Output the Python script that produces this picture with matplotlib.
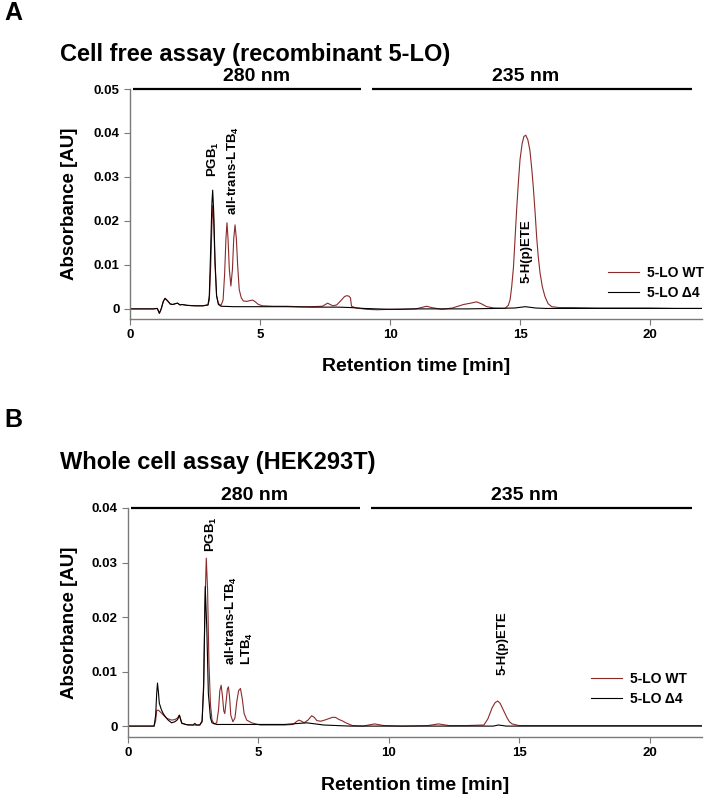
import numpy as np
import matplotlib
matplotlib.use('Agg')
import matplotlib.pyplot as plt

# ---- data ----
# panel A: cell free assay
t_a_wt = [0, 0.9, 1.05, 1.13, 1.2, 1.28, 1.35, 1.45, 1.55, 1.65,
          1.75, 1.83, 1.92, 2.0, 2.2, 2.5, 2.8, 3.0, 3.05, 3.1,
          3.15, 3.18, 3.22, 3.27, 3.33, 3.4, 3.5, 3.58, 3.64, 3.69,
          3.73, 3.77, 3.82, 3.88, 3.94, 3.99, 4.04, 4.09, 4.14, 4.2,
          4.28, 4.36, 4.5, 4.62, 4.72, 4.82, 4.94, 5.1, 5.5, 6.0,
          6.5, 7.0, 7.4, 7.6, 7.8, 7.95, 8.1, 8.25, 8.33, 8.42,
          8.48, 8.52, 8.7, 9.1, 9.5, 10, 10.5, 11.0, 11.2, 11.41,
          11.6, 11.99, 12.4, 12.83, 13.1, 13.33, 13.5, 13.72, 14.0, 14.42,
          14.55, 14.62, 14.68, 14.75, 14.81, 14.87, 14.94, 15.0, 15.08, 15.15,
          15.22, 15.3, 15.38, 15.45, 15.51, 15.58, 15.64, 15.7, 15.77, 15.86,
          15.96, 16.08, 16.22, 16.5, 17, 18, 19, 20, 21, 22]
a_wt = [0, 0, 0.0001, -0.001, 0.0, 0.0017, 0.0024, 0.0018, 0.0011, 0.0010,
        0.0012, 0.0013, 0.0009, 0.0010, 0.0008, 0.0007, 0.0007, 0.0009, 0.002, 0.009,
        0.019, 0.0235, 0.020, 0.010, 0.003, 0.0012, 0.0008, 0.002, 0.008, 0.016,
        0.0196, 0.016, 0.009, 0.0052, 0.009, 0.016, 0.0191, 0.016, 0.010, 0.0044,
        0.0025, 0.0018, 0.0017, 0.0019, 0.0020, 0.0016, 0.0010, 0.0007, 0.0006, 0.0006,
        0.0005, 0.0005, 0.0006, 0.0013, 0.0007, 0.0009, 0.0018, 0.0028, 0.0030, 0.0029,
        0.0025, 0.0006, 0.0002, -0.0001, -0.0002, -0.0001, -0.0001, 0.0, 0.0003, 0.0006,
        0.0003, -0.0001, 0.0002, 0.0010, 0.0013, 0.0016, 0.0012, 0.0005, 0.0002, 0.0001,
        0.0008, 0.0021, 0.005, 0.0096, 0.016, 0.0225, 0.029, 0.0339, 0.0375, 0.0392,
        0.0395, 0.0385, 0.0361, 0.032, 0.0278, 0.022, 0.0164, 0.012, 0.0082, 0.0050,
        0.0028, 0.0012, 0.0005, 0.0003, 0.0003, 0.0002, 0.0002, 0.0002, 0.0001, 0.0001]

t_a_d4 = [0, 0.9, 1.05, 1.13, 1.2, 1.28, 1.35, 1.45, 1.55, 1.65,
          1.75, 1.83, 1.92, 2.0, 2.2, 2.5, 2.8, 3.0, 3.05, 3.1,
          3.15, 3.18, 3.22, 3.27, 3.33, 3.4, 3.5, 4.0, 5.0, 6.0,
          7.0, 8.0, 8.5, 9.0, 10, 11, 12, 13, 14, 14.8,
          15.2, 15.6, 16, 18, 20, 22]
a_d4 = [0, 0, 0.0001, -0.001, 0.0, 0.0017, 0.0024, 0.0018, 0.0011, 0.0010,
        0.0012, 0.0013, 0.0009, 0.0010, 0.0008, 0.0007, 0.0007, 0.0009, 0.003, 0.013,
        0.024, 0.027, 0.022, 0.011, 0.003, 0.0010, 0.0006, 0.0005, 0.0005, 0.0005,
        0.0004, 0.0004, 0.0003, 0.0001, -0.0001, 0.0, 0.0, 0.0, 0.0001, 0.0002,
        0.0005, 0.0002, 0.0001, 0.0001, 0.0001, 0.0001]

# panel B: whole cell assay
t_b_wt = [0, 1.0, 1.06, 1.1, 1.17, 1.3, 1.4, 1.5, 1.67, 1.8,
          1.9, 1.97, 2.06, 2.2, 2.5, 2.75, 2.84, 2.9, 2.95, 3.0,
          3.05, 3.1, 3.16, 3.22, 3.3, 3.4, 3.47, 3.52, 3.57, 3.62,
          3.67, 3.71, 3.76, 3.81, 3.85, 3.89, 3.94, 4.02, 4.1, 4.17,
          4.24, 4.31, 4.38, 4.45, 4.55, 4.74, 5.06, 5.5, 6.0, 6.33,
          6.45, 6.55, 6.65, 6.75, 6.9, 7.04, 7.14, 7.24, 7.4, 7.6,
          7.83, 7.95, 8.09, 8.2, 8.35, 8.6, 9.0, 9.45, 9.8, 10.5,
          11.5, 11.9, 12.3, 13.0, 13.64, 13.79, 13.96, 14.07, 14.17, 14.26,
          14.34, 14.44, 14.53, 14.62, 14.72, 14.98, 16, 18, 20, 22]
b_wt = [0, 0, 0.001, 0.0029, 0.0029, 0.0023, 0.0018, 0.0014, 0.0011, 0.0012,
        0.0015, 0.002, 0.0006, 0.0003, 0.0002, 0.0002, 0.001, 0.008, 0.022, 0.0308,
        0.025, 0.012, 0.004, 0.0011, 0.0004, 0.0006, 0.003, 0.0065, 0.0075, 0.0055,
        0.0028, 0.0023, 0.0045, 0.0068, 0.0072, 0.0055, 0.002, 0.0008, 0.0015, 0.0045,
        0.0065, 0.0069, 0.005, 0.0023, 0.0011, 0.0006, 0.0002, 0.0002, 0.0002, 0.0003,
        0.0008, 0.0011, 0.0009, 0.0006, 0.0011, 0.0019, 0.0016, 0.001, 0.0009, 0.0012,
        0.0016, 0.0016, 0.0012, 0.0010, 0.0006, 0.0001, 0.0, 0.0004, 0.0001, 0.0,
        0.0001, 0.0004, 0.0001, 0.0001, 0.0002, 0.0013, 0.0034, 0.0043, 0.0046, 0.0042,
        0.0034, 0.0024, 0.0015, 0.0008, 0.0004, 0.0001, 0.0001, 0.0001, 0.0001, 0.0001]

t_b_d4 = [0, 1.0, 1.06, 1.1, 1.13, 1.17, 1.2, 1.28, 1.35, 1.45,
          1.54, 1.67, 1.8, 1.9, 1.97, 2.06, 2.3, 2.5, 2.56, 2.62,
          2.75, 2.84, 2.9, 2.96, 3.02, 3.08, 3.16, 3.22, 3.4, 4.0,
          5.0, 6.0, 6.85, 7.5, 8.5, 10, 12, 14, 14.2, 14.5,
          16, 18, 20, 22]
b_d4 = [0, 0, 0.002, 0.006, 0.0079, 0.006, 0.0042, 0.003, 0.0023, 0.0016,
        0.0011, 0.0006, 0.0008, 0.0012, 0.002, 0.0005, 0.0002, 0.0002, 0.0005, 0.0002,
        0.0002, 0.0008, 0.007, 0.0256, 0.018, 0.006, 0.0015, 0.0006, 0.0003, 0.0003,
        0.0003, 0.0003, 0.0006, 0.0002, 0.0, 0.0, 0.0, 0.0, 0.0002, 0.0,
        0.0, 0.0, 0.0, 0.0]

series_names = ['5-LO WT', '5-LO \u03944']
x_ticks = [0, 5, 10, 15, 20]
y_ticks_a = [0, 0.01, 0.02, 0.03, 0.04, 0.05]
y_ticks_b = [0, 0.01, 0.02, 0.03, 0.04]
wavelengths = ['280 nm', '235 nm']
wl_ranges = [(0.1, 8.9), (9.3, 21.6)]
wl_label_x = [4.85, 15.2]

# peak labels: (text, x, y)
peaks_a = [('PGB$_1$', 3.2, 0.0300), ('all-trans-LTB$_4$', 3.96, 0.0214),
           ('5-H(p)ETE', 15.27, 0.0059)]
peaks_b = [('PGB$_1$', 3.2, 0.0319), ('all-trans-LTB$_4$', 3.96, 0.0112),
           ('LTB$_4$', 4.58, 0.0112), ('5-H(p)ETE', 14.35, 0.0094)]

col_wt = '#8b2a2a'
col_d4 = 'black'

plt.rcParams['font.family'] = ['Liberation Sans', 'DejaVu Sans']
plt.rcParams['font.weight'] = 'bold'
plt.rcParams['mathtext.fontset'] = 'custom'
plt.rcParams['mathtext.rm'] = 'Liberation Sans:bold'
plt.rcParams['mathtext.bf'] = 'Liberation Sans:bold'
plt.rcParams['mathtext.default'] = 'bf'

W, H = 704, 798
fig = plt.figure(figsize=(W / 100, H / 100), dpi=100)


def px(x0, y0, x1, y1):
    return [x0 / W, 1 - y1 / H, (x1 - x0) / W, (y1 - y0) / H]


def panel(ax, t_wt, v_wt, t_d4, v_d4, yticks, ylim, peaks, leg_anchor):
    ax.plot(t_wt, v_wt, color=col_wt, lw=0.8, label=series_names[0])
    ax.plot(t_d4, v_d4, color=col_d4, lw=0.8, label=series_names[1])
    ax.set_xlim(0, 22)
    ax.set_ylim(*ylim)
    ax.set_xticks(x_ticks)
    ax.set_yticks(yticks)
    ax.set_yticklabels(['0' if v == 0 else f'{v:.2f}' for v in yticks])
    for s in ['top', 'right']:
        ax.spines[s].set_visible(False)
    for s in ['left', 'bottom']:
        ax.spines[s].set_color('#7a7a7a')
        ax.spines[s].set_linewidth(1.0)
    ax.tick_params(colors='#7a7a7a', labelcolor='black', labelsize=9.5,
                   length=4, width=0.8, direction='out')
    top = yticks[-1]
    for (lo, hi), lab, lx in zip(wl_ranges, wavelengths, wl_label_x):
        ax.plot([lo, hi], [top, top], color='black', lw=1.6, clip_on=False,
                solid_capstyle='butt')
        ax.annotate(lab, xy=(lx, top), xytext=(0, 3),
                    textcoords='offset points', ha='center', va='bottom',
                    fontsize=14, fontweight='bold', annotation_clip=False)
    for txt, x, y in peaks:
        ax.text(x, y, txt, rotation=90, ha='center', va='bottom',
                fontsize=9.5, fontweight='bold')
    ax.set_xlabel('Retention time [min]', fontsize=14, fontweight='bold')
    ax.set_ylabel('Absorbance [AU]', fontsize=13.5, fontweight='bold')
    ax.legend(loc='upper left', bbox_to_anchor=leg_anchor, frameon=False,
              fontsize=10, handlelength=2.2, handletextpad=0.6,
              labelspacing=0.45, borderpad=0, borderaxespad=0)


ax_a = fig.add_axes(px(130, 89, 702, 319))
panel(ax_a, t_a_wt, a_wt, t_a_d4, a_d4, y_ticks_a, (-0.0023, 0.05),
      peaks_a, (0.836, 0.23))
ax_a.xaxis.set_label_coords(0.5, -0.17)
ax_a.yaxis.set_label_coords(-0.091, 0.5)

ax_b = fig.add_axes(px(128, 508, 702, 737))
panel(ax_b, t_b_wt, b_wt, t_b_d4, b_d4, y_ticks_b, (-0.002, 0.04),
      peaks_b, (0.807, 0.285))
ax_b.xaxis.set_label_coords(0.5, -0.175)
ax_b.yaxis.set_label_coords(-0.087, 0.5)

fig.text(4 / W, 1 - 13 / H, 'A', fontsize=18, fontweight='bold', va='center')
fig.text(4 / W, 1 - 420 / H, 'B', fontsize=18, fontweight='bold', va='center')
fig.text(60 / W, 1 - 54 / H, 'Cell free assay (recombinant 5-LO)',
         fontsize=17, fontweight='bold', va='center')
fig.text(60 / W, 1 - 463 / H, 'Whole cell assay (HEK293T)',
         fontsize=17, fontweight='bold', va='center')

fig.savefig('out.png', dpi=100)
